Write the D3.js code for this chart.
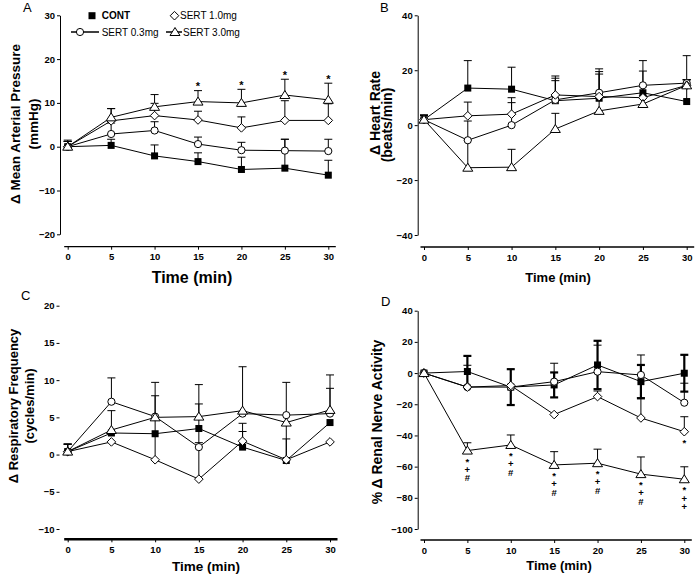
<!DOCTYPE html>
<html><head><meta charset="utf-8">
<script src="https://cdn.jsdelivr.net/npm/d3@7"></script>
<style>body{margin:0;background:#fff}svg{display:block}text{font-family:"Liberation Sans",Arial,sans-serif;fill:#000}</style>
</head><body><svg id="chart" width="700" height="578"></svg>
<script>
// ---------- DATA ----------
const times = [0, 5, 10, 15, 20, 25, 30];
const seriesNames = ["CONT", "SERT 0.3mg", "SERT 1.0mg", "SERT 3.0mg"];
const seriesShapes = ["square", "circle", "diamond", "triangle"];

// A: change in mean arterial pressure (mmHg)
const mapCont = [0, 0.3, -2.1, -3.4, -5.2, -4.9, -6.5];
const mapContErr = [1.5, 1.4, 2.5, 2.0, 2.8, 6.6, 3.4];
const mapS03 = [0, 2.9, 3.7, 0.6, -0.8, -0.9, -1.0];
const mapS03Err = [1.2, 2.5, 2.0, 1.6, 1.8, 2.6, 2.7];
const mapS10 = [0, 5.9, 7.1, 6.1, 4.3, 6.0, 6.0];
const mapS10Err = [1.2, 2.8, 2.8, 2.0, 2.5, 4.5, 3.8];
const mapS30 = [0, 6.7, 9.1, 10.3, 10.0, 11.8, 10.7];
const mapS30Err = [1.2, 2.0, 2.8, 2.5, 3.1, 3.6, 3.8];
const mapSigTimes = [15, 20, 25, 30];
const mapSigMarks = ["*", "*", "*", "*"];
const mapTicks = [-20, -10, 0, 10, 20, 30];

// B: change in heart rate (beats/min)
const hrCont = [2, 13.5, 13.1, 8.9, 9.8, 11.8, 8.6];
const hrContErr = [1.8, 10, 8, 7.3, 8.8, 7.9, 8];
const hrS03 = [2, -5.5, 0, 9.2, 11.8, 14.5, 15.3];
const hrS03Err = [1.5, 7, 8.2, 7.9, 8.7, 9, 10];
const hrS10 = [2, 3.4, 4.0, 11, 10.4, 10, 14.5];
const hrS10Err = [1.5, 5, 6, 6.9, 9.1, 4, 2];
const hrS30 = [2, -15.5, -15.3, -1.4, 5.2, 7.7, 14.5];
const hrS30Err = [1.5, 10, 6.5, 5.7, 5, 3, 2];
const hrTicks = [-40, -20, 0, 20, 40];

// C: change in respiratory frequency (cycles/min)
const rfCont = [0.4, 2.9, 2.8, 3.5, 1.0, -0.8, 4.3];
const rfContErr = [1.0, 3.0, 0, 0, 2.1, 2.9, 0];
const rfS03 = [0.4, 7.1, 5.1, 1.0, 5.5, 5.3, 5.5];
const rfS03Err = [1.0, 3.2, 2.8, 5.8, 0, 4.4, 3.4];
const rfS10 = [0.4, 1.7, -0.7, -3.3, 1.8, -0.7, 1.7];
const rfS10Err = [1.0, 0, 10.4, 4.9, 2.4, 4.7, 0];
const rfS30 = [0.4, 3.3, 5.0, 5.1, 5.9, 4.3, 6.0];
const rfS30Err = [1.0, 0, 0, 4.3, 5.9, 0, 4.7];
const rfTicks = [-10, -5, 0, 5, 10, 15, 20];

// D: % change in renal sympathetic nerve activity
const rsCont = [0, 1, -9, -7.6, 5.2, -5.5, -0.1];
const rsContErr = [0, 10, 11.5, 8, 15.5, 10.7, 11.8];   // drawn both ways
const rsS03 = [0, -9, -9, -5.5, 0.9, -1.2, -19];
const rsS03Err = [0, 14, 0, 11.8, 17, 12.8, 12.5];
const rsS10 = [0, -9, -8, -26.6, -15.1, -28.8, -37.6];
const rsS10Err = [0, 0, 0, 0, 3.6, 13, 9.6];
const rsS30 = [0, -49.7, -46.1, -58.9, -57.8, -64.8, -68.1];
const rsS30Err = [0, 5, 6.4, 8.5, 9, 11, 8];
const rsSigTimes = [5, 10, 15, 20, 25, 30];
const rsSigMarks = ["*+#", "*+#", "*+#", "*+#", "*+#", "*++"];
const rsS10SigTimes = [30];
const rsS10SigMarks = ["*"];
const rsTicks = [-100, -80, -60, -40, -20, 0, 20, 40];

// ---------- DRAWING ----------
const svg = d3.select("#chart");
const FONT = '"Liberation Sans", Arial, sans-serif';

const panels = [
  { letter: "A", lx: 23, ly: 12, xRange: [67.7, 328.3], yDomain: [-20, 30], yRange: [234.3, 15.3],
    yTicks: mapTicks, yAxisX: 60, xAxisY: 246.7, xAxisW: 1.3, yDomainLine: true,
    values: [mapCont, mapS03, mapS10, mapS30], errs: [mapContErr, mapS03Err, mapS10Err, mapS30Err], errLow: [null, null, null, null],
    ylabSize: 13.5,
    ylab: [{ t: "\u0394 Mean Arterial Pressure", x: 15, y: 124 }, { t: "(mmHg)", x: 33, y: 124 }],
    xlab: { x: 192, y: 283, size: 16 } },
  { letter: "B", lx: 380, ly: 12, xRange: [424, 686.7], yDomain: [-40, 40], yRange: [235, 15.3],
    yTicks: hrTicks, yAxisX: 417.7, xAxisY: 247, xAxisW: 1.3, yDomainLine: true,
    values: [hrCont, hrS03, hrS10, hrS30], errs: [hrContErr, hrS03Err, hrS10Err, hrS30Err], errLow: [null, null, null, null],
    ylabSize: 14,
    ylab: [{ t: "\u0394 Heart Rate", x: 375, y: 113 }, { t: "(beats/min)", x: 387, y: 125 }],
    xlab: { x: 558, y: 282, size: 13 } },
  { letter: "C", lx: 21, ly: 300, xRange: [67.7, 330], yDomain: [-10, 20], yRange: [529, 305.7],
    yTicks: rfTicks, yAxisX: 59.5, xAxisY: 539.3, xAxisW: 2.5, yDomainLine: false,
    values: [rfCont, rfS03, rfS10, rfS30], errs: [rfContErr, rfS03Err, rfS10Err, rfS30Err], errLow: [null, null, null, null],
    ylabSize: 13,
    ylab: [{ t: "\u0394 Respiratory Frequency", x: 13, y: 406 }, { t: "(cycles/min)", x: 29, y: 406 }],
    xlab: { x: 206, y: 571, size: 13.5 } },
  { letter: "D", lx: 381, ly: 306, xRange: [424, 684.3], yDomain: [-100, 40], yRange: [529, 310.7],
    yTicks: rsTicks, yAxisX: 417.7, xAxisY: 540, xAxisW: 1.3, yDomainLine: true,
    values: [rsCont, rsS03, rsS10, rsS30], errs: [rsContErr, rsS03Err, rsS10Err, rsS30Err], errLow: [rsContErr, null, null, null],
    thickErr: [true, false, false, false],
    ylabSize: 14,
    ylab: [{ t: "% \u0394 Renal Nerve Activity", x: 377, y: 422 }],
    xlab: { x: 559, y: 570, size: 13 } }
];

function marker(g, shape, cx, cy) {
  if (shape === "square") {
    g.append("rect").attr("x", cx - 3.5).attr("y", cy - 3.5).attr("width", 7).attr("height", 7).attr("fill", "#000");
  } else if (shape === "circle") {
    g.append("circle").attr("cx", cx).attr("cy", cy).attr("r", 3.6).attr("fill", "#fff").attr("stroke", "#000").attr("stroke-width", 1);
  } else if (shape === "diamond") {
    g.append("path").attr("d", `M${cx},${cy - 4.3}L${cx + 4.3},${cy}L${cx},${cy + 4.3}L${cx - 4.3},${cy}Z`).attr("fill", "#fff").attr("stroke", "#000");
  } else {
    g.append("path").attr("d", `M${cx},${cy - 4.5}L${cx + 5},${cy + 3.5}L${cx - 5},${cy + 3.5}Z`).attr("fill", "#fff").attr("stroke", "#000");
  }
}

panels.forEach(p => {
  const g = svg.append("g");
  const x = d3.scaleLinear().domain([0, 30]).range(p.xRange);
  const y = d3.scaleLinear().domain(p.yDomain).range(p.yRange);
  p.x = x; p.y = y;

  const yg = g.append("g").attr("transform", `translate(${p.yAxisX},0)`)
    .call(d3.axisLeft(y).tickValues(p.yTicks).tickSize(3).tickSizeOuter(0).tickPadding(2));
  if (!p.yDomainLine) yg.select(".domain").remove();
  yg.selectAll("text").style("font-family", FONT).style("font-size", "9.5px").style("font-weight", "bold");

  const xg = g.append("g").attr("transform", `translate(0,${p.xAxisY})`)
    .call(d3.axisBottom(x).tickValues(times).tickSize(3).tickSizeOuter(0).tickPadding(4));
  xg.select(".domain").remove();
  xg.append("line").attr("x1", x(0) - 3.5).attr("x2", x(30) + 7.5).attr("y1", 0).attr("y2", 0)
    .attr("stroke", "#000").attr("stroke-width", p.xAxisW);
  xg.selectAll("text").style("font-family", FONT).style("font-size", "9.5px").style("font-weight", "bold");

  g.append("text").attr("x", p.lx).attr("y", p.ly).style("font-size", "13px").text(p.letter);
  p.ylab.forEach(l => {
    g.append("text").attr("transform", `translate(${l.x},${l.y}) rotate(-90)`)
      .attr("text-anchor", "middle").attr("dominant-baseline", "central")
      .style("font-size", p.ylabSize + "px").style("font-weight", "bold").text(l.t);
  });
  g.append("text").attr("x", p.xlab.x).attr("y", p.xlab.y).attr("text-anchor", "middle")
    .style("font-size", p.xlab.size + "px").style("font-weight", "bold").text("Time (min)");

  p.values.forEach((vals, i) => {
    const errs = p.errs[i], low = p.errLow[i];
    const w = p.thickErr && p.thickErr[i] ? 2.2 : 1;
    vals.forEach((v, j) => {
      const cx = x(times[j]);
      if (errs[j] > 0) {
        g.append("line").attr("x1", cx).attr("x2", cx).attr("y1", y(v)).attr("y2", y(v + errs[j])).attr("stroke", "#000").attr("stroke-width", w);
        g.append("line").attr("x1", cx - 4).attr("x2", cx + 4).attr("y1", y(v + errs[j])).attr("y2", y(v + errs[j])).attr("stroke", "#000").attr("stroke-width", w);
      }
      if (low && low[j] > 0) {
        g.append("line").attr("x1", cx).attr("x2", cx).attr("y1", y(v)).attr("y2", y(v - low[j])).attr("stroke", "#000").attr("stroke-width", w);
        g.append("line").attr("x1", cx - 4).attr("x2", cx + 4).attr("y1", y(v - low[j])).attr("y2", y(v - low[j])).attr("stroke", "#000").attr("stroke-width", w);
      }
    });
  });
  const line = d3.line().x((d, j) => x(times[j])).y(d => y(d));
  p.values.forEach(vals => {
    g.append("path").attr("d", line(vals)).attr("fill", "none").attr("stroke", "#000").attr("stroke-width", 1);
  });
  p.values.forEach((vals, i) => {
    vals.forEach((v, j) => marker(g, seriesShapes[i], x(times[j]), y(v)));
  });
});

// significance marks
(function () {
  const p = panels[0];
  mapSigTimes.forEach((t, k) => {
    const j = times.indexOf(t);
    const top = p.y(mapS30[j] + mapS30Err[j]);
    svg.append("text").attr("x", p.x(t)).attr("y", top - 0.5).attr("text-anchor", "middle")
      .style("font-size", "11px").style("font-weight", "bold").text(mapSigMarks[k]);
  });
  const q = panels[3];
  const fs = 9.5;
  rsSigTimes.forEach((t, k) => {
    const j = times.indexOf(t);
    const top = q.y(rsS30[j]) + 5;
    svg.append("text").attr("x", q.x(t)).attr("y", top)
      .style("writing-mode", "vertical-rl").style("text-orientation", "upright")
      .style("letter-spacing", "-2.7px")
      .style("font-size", fs + "px").style("font-weight", "bold").text(rsSigMarks[k]);
  });
  rsS10SigTimes.forEach((t, k) => {
    const j = times.indexOf(t);
    const c = q.y(rsS10[j]) + 9;
    svg.append("text").attr("x", q.x(t)).attr("y", c + 0.58 * fs).attr("text-anchor", "middle")
      .style("font-size", fs + "px").style("font-weight", "bold").text(rsS10SigMarks[k]);
  });
})();

// legend (panel A)
(function () {
  const lg = svg.append("g");
  marker(lg, "square", 92, 15.7);
  lg.append("text").attr("x", 101.7).attr("y", 19.3).style("font-size", "10px").style("font-weight", "bold").text(seriesNames[0]);
  marker(lg, "diamond", 174.5, 15.7);
  lg.append("text").attr("x", 180).attr("y", 19.3).style("font-size", "10px").text(seriesNames[2]);
  lg.append("line").attr("x1", 71).attr("x2", 99).attr("y1", 32).attr("y2", 32).attr("stroke", "#000").attr("stroke-width", 1.5);
  marker(lg, "circle", 80, 32);
  lg.append("text").attr("x", 101.7).attr("y", 35.6).style("font-size", "10px").text(seriesNames[1]);
  lg.append("line").attr("x1", 166).attr("x2", 182).attr("y1", 32).attr("y2", 32).attr("stroke", "#000").attr("stroke-width", 1.5);
  marker(lg, "triangle", 175, 32);
  lg.append("text").attr("x", 183).attr("y", 35.6).style("font-size", "10px").text(seriesNames[3]);
})();
</script></body></html>
